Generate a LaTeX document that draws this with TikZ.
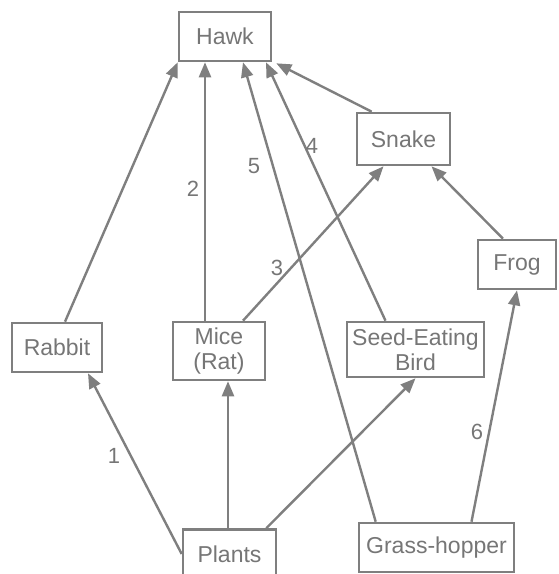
\documentclass[tikz,border=0pt]{standalone}
\usepackage{fontspec}
\setmainfont{Liberation Sans}
\usetikzlibrary{arrows.meta}
\definecolor{inkgray}{HTML}{7F7F7F}
\definecolor{txtgray}{HTML}{767676}
\tikzset{
  orgbox/.style={draw=inkgray, line width=2.6pt, fill=white, text=txtgray,
    inner sep=0pt, align=center, font=\fontsize{23}{25}\selectfont},
  feeds/.style={draw=inkgray, line width=2.4pt,
    -{Triangle[length=15pt,width=12pt]}, shorten >=0pt},
  numlabel/.style={text=txtgray, inner sep=0pt, font=\fontsize{22}{24}\selectfont}
}
\begin{document}
\begin{tikzpicture}[x=1pt,y=-1pt]
\useasboundingbox (0,0) rectangle (558,574);
\clip (0,0) rectangle (558,574);
% nodes
\node[orgbox, minimum width=92pt, minimum height=49pt] (hawk) at (225,36.5) {Hawk};
\node[orgbox, minimum width=93pt, minimum height=52pt] (snake) at (403.5,139) {Snake};
\node[orgbox, minimum width=78pt, minimum height=49pt] (frog) at (517,264.5) {Frog};
\node[orgbox, minimum width=90pt, minimum height=49pt] (rabbit) at (57,347.5) {Rabbit};
\node[orgbox, minimum width=92pt, minimum height=58pt] (mice) at (219,351) {Mice\\(Rat)};
\node[orgbox, minimum width=137pt, minimum height=55pt] (bird) at (415.5,349.5) {Seed-Eating\\Bird};
\node[orgbox, minimum width=93pt, minimum height=49pt] (plants) at (229.5,554) {Plants};
\node[orgbox, minimum width=155pt, minimum height=49pt] (grass) at (436.5,547.5) {Grass-hopper};
% connectors
\draw[feeds] (plants.west) -- ([xshift=31pt]rabbit.south);
\draw[feeds] ([xshift=-1.5pt]plants.north) -- ([xshift=9pt]mice.south);
\draw[feeds] ([xshift=-11pt]plants.north east) -- (bird.south);
\draw[feeds] ([xshift=8pt]rabbit.north) -- (hawk.south west);
\draw[feeds] ([xshift=-14pt]mice.north) -- ([xshift=-20pt]hawk.south);
\draw[feeds] ([xshift=18pt]grass.north west) -- ([xshift=18pt]hawk.south);
\draw[feeds] ([xshift=-30pt]bird.north) -- ([xshift=41pt]hawk.south);
\draw[feeds] ([xshift=16pt]snake.north west) -- ([xshift=4pt,yshift=-1pt]hawk.south east);
\draw[feeds] ([xshift=24pt]mice.north) -- ([xshift=-20pt]snake.south);
\draw[feeds] ([xshift=-14pt]frog.north) -- ([xshift=28pt]snake.south);
\draw[feeds] ([xshift=35pt]grass.north) -- (frog.south);
% labels
\node[numlabel] (n1) at (114,456) {1};
\node[numlabel] (n2) at (193,189) {2};
\node[numlabel] (n3) at (277,268) {3};
\node[numlabel] (n4) at (312,146) {4};
\node[numlabel] (n5) at (254,166) {5};
\node[numlabel] (n6) at (477,432) {6};
\end{tikzpicture}
\end{document}
